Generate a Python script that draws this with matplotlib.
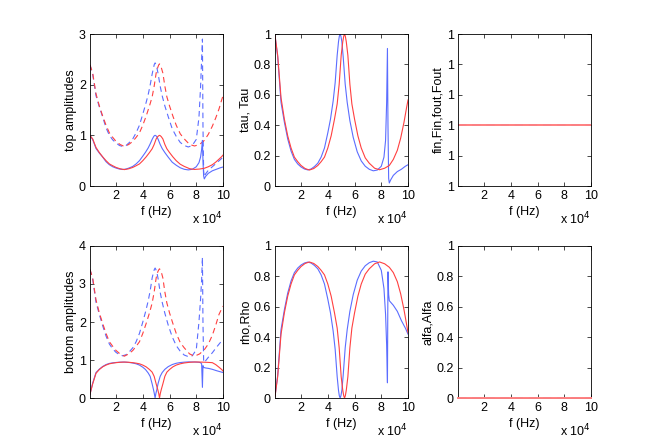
import matplotlib
matplotlib.use('Agg')
import matplotlib.pyplot as plt
from matplotlib.ticker import FuncFormatter

plt.rcParams['font.family'] = ['Liberation Sans', 'DejaVu Sans']
plt.rcParams['font.size'] = 9

# frequency grids, in units of 1e4 Hz (blue model has the extra spike near 8.46)
f_blue = [0.05, 0.25, 0.5, 0.75, 1.0, 1.25, 1.5, 1.75, 2.0, 2.25,
          2.5, 2.75, 3.0, 3.25, 3.5, 3.75, 4.0, 4.2, 4.4, 4.55,
          4.7, 4.8, 4.86, 4.92, 4.98, 5.05, 5.15, 5.3, 5.45, 5.65,
          5.9, 6.2, 6.5, 6.8, 7.1, 7.4, 7.7, 8.0, 8.2, 8.32,
          8.4, 8.46, 8.5, 8.55, 8.6, 8.7, 8.9, 9.2, 9.5, 9.8,
          10.0]
f_red = [0.05, 0.25, 0.5, 0.75, 1.0, 1.25, 1.5, 1.75, 2.0, 2.3,
         2.62, 2.95, 3.25, 3.5, 3.75, 4.0, 4.25, 4.5, 4.7, 4.85,
         5.0, 5.12, 5.19, 5.25, 5.31, 5.38, 5.5, 5.65, 5.8, 6.0,
         6.25, 6.5, 6.8, 7.1, 7.5, 7.87, 8.25, 8.6, 8.9, 9.2,
         9.45, 9.7, 9.9, 10.0]

# top amplitudes (solid and dashed)
top_blue = [0.995, 0.92, 0.74, 0.65, 0.57, 0.48, 0.42, 0.38, 0.354, 0.335,
            0.326, 0.335, 0.358, 0.387, 0.436, 0.5, 0.59, 0.665, 0.75, 0.83,
            0.92, 0.97, 0.992, 1.0, 0.992, 0.975, 0.92, 0.82, 0.74, 0.66,
            0.57, 0.47, 0.41, 0.36, 0.33, 0.318, 0.33, 0.38, 0.46, 0.57,
            0.72, 0.9, 0.5, 0.2, 0.14, 0.19, 0.25, 0.3, 0.33, 0.36,
            0.375]
top_red = [0.995, 0.93, 0.76, 0.66, 0.575, 0.5, 0.436, 0.4, 0.367, 0.34,
           0.324, 0.34, 0.367, 0.4, 0.436, 0.5, 0.575, 0.66, 0.735, 0.82,
           0.93, 0.975, 0.992, 1.0, 0.992, 0.975, 0.93, 0.82, 0.735, 0.66,
           0.575, 0.5, 0.43, 0.387, 0.342, 0.327, 0.335, 0.35, 0.38, 0.42,
           0.47, 0.53, 0.58, 0.61]
top_dash_blue = [2.39, 2.21, 1.78, 1.56, 1.36, 1.15, 1.0, 0.91, 0.85, 0.8,
                 0.78, 0.8, 0.86, 0.93, 1.05, 1.2, 1.42, 1.6, 1.8, 1.99,
                 2.21, 2.33, 2.4, 2.43, 2.4, 2.34, 2.21, 1.97, 1.78, 1.58,
                 1.37, 1.13, 0.98, 0.86, 0.8, 0.77, 0.8, 0.92, 1.35, 1.95,
                 2.5, 2.9, 1.2, 0.3, 0.18, 0.24, 0.31, 0.38, 0.45, 0.52,
                 0.57]
top_dash_red = [2.39, 2.23, 1.82, 1.58, 1.38, 1.2, 1.05, 0.96, 0.88, 0.82,
                0.78, 0.82, 0.88, 0.96, 1.05, 1.2, 1.38, 1.58, 1.76, 1.97,
                2.23, 2.34, 2.39, 2.41, 2.39, 2.34, 2.23, 1.97, 1.76, 1.58,
                1.38, 1.2, 1.03, 0.93, 0.82, 0.79, 0.82, 0.9, 1.02, 1.18,
                1.34, 1.52, 1.7, 1.78]

# tau, Tau
tau_blue = [0.99, 0.85, 0.55, 0.42, 0.31, 0.23, 0.175, 0.145, 0.125, 0.112,
            0.106, 0.112, 0.128, 0.15, 0.19, 0.25, 0.35, 0.44, 0.56, 0.68,
            0.86, 0.95, 0.985, 1.0, 0.985, 0.95, 0.85, 0.67, 0.55, 0.43,
            0.32, 0.225, 0.165, 0.13, 0.11, 0.1, 0.105, 0.13, 0.19, 0.3,
            0.55, 0.905, 0.4, 0.05, 0.02, 0.04, 0.07, 0.095, 0.11, 0.13,
            0.14]
tau_red = [0.99, 0.86, 0.58, 0.44, 0.33, 0.25, 0.19, 0.16, 0.135, 0.115,
           0.105, 0.115, 0.135, 0.16, 0.19, 0.25, 0.33, 0.44, 0.54, 0.67,
           0.86, 0.95, 0.985, 1.0, 0.985, 0.95, 0.86, 0.67, 0.54, 0.44,
           0.33, 0.25, 0.185, 0.15, 0.117, 0.107, 0.117, 0.135, 0.175, 0.235,
           0.315, 0.42, 0.52, 0.566]

# bottom amplitudes (solid and dashed)
bot_blue = [0.1, 0.39, 0.67, 0.76, 0.83, 0.88, 0.91, 0.925, 0.935, 0.942,
            0.945, 0.942, 0.934, 0.92, 0.9, 0.866, 0.81, 0.75, 0.66, 0.57,
            0.37, 0.22, 0.12, 0.0, 0.12, 0.22, 0.39, 0.57, 0.67, 0.755,
            0.825, 0.88, 0.914, 0.933, 0.943, 0.95, 0.948, 0.945, 0.94, 0.93,
            0.9, 0.28, 0.85, 0.8, 0.8, 0.79, 0.78, 0.755, 0.72, 0.69,
            0.67]
bot_red = [0.1, 0.37, 0.65, 0.75, 0.82, 0.866, 0.9, 0.917, 0.93, 0.94,
           0.946, 0.94, 0.93, 0.917, 0.9, 0.866, 0.82, 0.75, 0.68, 0.57,
           0.37, 0.22, 0.12, 0.0, 0.12, 0.22, 0.37, 0.57, 0.68, 0.75,
           0.82, 0.866, 0.9, 0.922, 0.94, 0.948, 0.946, 0.942, 0.937, 0.93,
           0.88, 0.81, 0.75, 0.71]
bot_dash_blue = [3.38, 3.13, 2.52, 2.2, 1.9, 1.63, 1.42, 1.29, 1.2, 1.14,
                 1.11, 1.14, 1.22, 1.32, 1.48, 1.7, 2.0, 2.26, 2.55, 2.82,
                 3.16, 3.31, 3.38, 3.42, 3.38, 3.31, 3.13, 2.78, 2.52, 2.23,
                 1.92, 1.61, 1.38, 1.23, 1.13, 1.09, 1.11, 1.27, 2.0, 2.6,
                 3.1, 3.7, 2.0, 1.0, 0.93, 0.98, 1.07, 1.19, 1.33, 1.46,
                 1.54]
bot_dash_red = [3.38, 3.16, 2.58, 2.24, 1.96, 1.7, 1.48, 1.36, 1.25, 1.16,
                1.1, 1.16, 1.25, 1.36, 1.48, 1.7, 1.96, 2.24, 2.5, 2.79,
                3.16, 3.32, 3.37, 3.4, 3.37, 3.32, 3.16, 2.79, 2.5, 2.24,
                1.96, 1.7, 1.46, 1.32, 1.16, 1.1, 1.16, 1.27, 1.42, 1.65,
                1.91, 2.2, 2.35, 2.42]

# rho, Rho
rho_blue = [0.01, 0.15, 0.45, 0.58, 0.69, 0.77, 0.825, 0.855, 0.875, 0.888,
            0.894, 0.888, 0.872, 0.85, 0.81, 0.75, 0.65, 0.56, 0.44, 0.32,
            0.14, 0.05, 0.015, 0.0, 0.015, 0.05, 0.15, 0.33, 0.45, 0.57,
            0.68, 0.775, 0.835, 0.87, 0.89, 0.9, 0.895, 0.84, 0.72, 0.55,
            0.35, 0.1, 0.83, 0.68, 0.64, 0.63, 0.61, 0.57, 0.51, 0.46,
            0.42]
rho_red = [0.01, 0.14, 0.42, 0.56, 0.67, 0.75, 0.81, 0.84, 0.865, 0.885,
           0.895, 0.885, 0.865, 0.84, 0.81, 0.75, 0.67, 0.56, 0.46, 0.33,
           0.14, 0.05, 0.015, 0.0, 0.015, 0.05, 0.14, 0.33, 0.46, 0.56,
           0.67, 0.75, 0.815, 0.85, 0.883, 0.895, 0.883, 0.86, 0.825, 0.765,
           0.685, 0.58, 0.48, 0.43]

# flat quantities
f_flat = [0.05, 10.0]
fin_vals = [1.0, 1.0]
alfa_vals = [0.0, 0.0]

BLUE = '#5b6dff'
RED = '#ff4040'
LW = 0.8
DASH = (5, 3.5)


def hz(vals):
    return [v * 1e4 for v in vals]


def style_axes(ax, ylabel):
    ax.set_xlim(500, 1e5)
    ax.set_xticks([2e4, 4e4, 6e4, 8e4, 1e5])
    ax.xaxis.set_major_formatter(FuncFormatter(lambda v, p: '%g' % (v / 1e4)))
    ax.yaxis.set_major_formatter(FuncFormatter(lambda v, p: '%g' % round(v, 6)))
    ax.tick_params(direction='in', length=3, width=0.5, top=True, right=True,
                   labelsize=9, pad=3)
    for s in ax.spines.values():
        s.set_linewidth(0.6)
    ax.set_xlabel('f (Hz)', labelpad=3)
    ax.set_ylabel(ylabel, labelpad=1.5)
    ax.text(1.0, -0.215, r'x 10$^4$', transform=ax.transAxes,
            ha='right', va='center', fontsize=9)


fig = plt.figure(figsize=(6.54, 4.48), dpi=100)
cols = [0.1376, 0.4205, 0.7003]
rows = [0.5848, 0.1116]
W, H = 0.2034, 0.3393

# top amplitudes
ax = fig.add_axes([cols[0], rows[0], W, H])
ax.plot(hz(f_blue), top_dash_blue, color=BLUE, lw=LW, dashes=DASH)
ax.plot(hz(f_red), top_dash_red, color=RED, lw=LW, dashes=DASH)
ax.plot(hz(f_blue), top_blue, color=BLUE, lw=LW)
ax.plot(hz(f_red), top_red, color=RED, lw=LW)
ax.set_ylim(0, 3)
ax.set_yticks([0, 1, 2, 3])
style_axes(ax, 'top amplitudes')

# tau
ax = fig.add_axes([cols[1], rows[0], W, H])
ax.plot(hz(f_blue), tau_blue, color=BLUE, lw=LW)
ax.plot(hz(f_red), tau_red, color=RED, lw=LW)
ax.set_ylim(0, 1)
ax.set_yticks([0, 0.2, 0.4, 0.6, 0.8, 1])
style_axes(ax, 'tau, Tau')

# fin, Fin, fout, Fout
ax = fig.add_axes([cols[2], rows[0], W, H])
ax.plot(hz(f_flat), fin_vals, color=BLUE, lw=1.2, dashes=DASH)
ax.plot(hz(f_flat), fin_vals, color='#ff8080', lw=1.4)
ax.set_ylim(0.98, 1.03)
ax.set_yticks([0.98, 0.99, 1.0, 1.01, 1.02, 1.03])
style_axes(ax, 'fin,Fin,fout,Fout')
ax.yaxis.set_major_formatter(FuncFormatter(lambda v, p: '%.0f' % v))

# bottom amplitudes
ax = fig.add_axes([cols[0], rows[1], W, H])
ax.plot(hz(f_blue), bot_dash_blue, color=BLUE, lw=LW, dashes=DASH)
ax.plot(hz(f_red), bot_dash_red, color=RED, lw=LW, dashes=DASH)
ax.plot(hz(f_blue), bot_blue, color=BLUE, lw=LW)
ax.plot(hz(f_red), bot_red, color=RED, lw=LW)
ax.set_ylim(0, 4)
ax.set_yticks([0, 1, 2, 3, 4])
style_axes(ax, 'bottom amplitudes')

# rho
ax = fig.add_axes([cols[1], rows[1], W, H])
ax.plot(hz(f_blue), rho_blue, color=BLUE, lw=LW)
ax.plot(hz(f_red), rho_red, color=RED, lw=LW)
ax.set_ylim(0, 1)
ax.set_yticks([0, 0.2, 0.4, 0.6, 0.8, 1])
style_axes(ax, 'rho,Rho')

# alfa
ax = fig.add_axes([cols[2], rows[1], W, H])
ax.plot(hz(f_flat), alfa_vals, color=BLUE, lw=1.2, dashes=DASH, clip_on=False)
ax.plot(hz(f_flat), alfa_vals, color='#ff8080', lw=1.4, clip_on=False, zorder=3)
ax.set_ylim(0, 1)
ax.set_yticks([0, 0.2, 0.4, 0.6, 0.8, 1])
style_axes(ax, 'alfa,Alfa')

fig.savefig('out.png', dpi=100)
